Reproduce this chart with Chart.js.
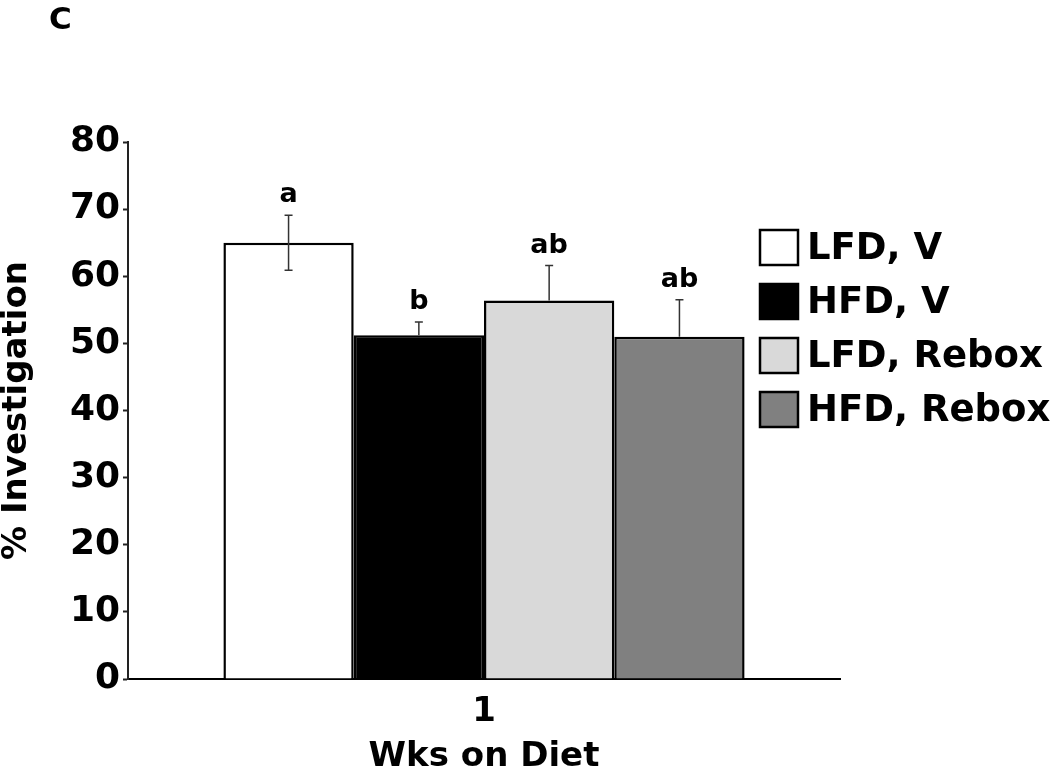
<!DOCTYPE html>
<html>
<head>
<meta charset="utf-8">
<script src="https://cdn.jsdelivr.net/npm/chart.js@4"></script>
<style>
  html, body { margin: 0; padding: 0; background: #fff; }
  #wrap { width: 1050px; height: 772px; }
</style>
</head>
<body>
<div id="wrap"><canvas id="barChart" width="1050" height="772"></canvas></div>
<script>
const categories = ["1"];
const groups = ["LFD, V", "HFD, V", "LFD, Rebox", "HFD, Rebox"];
const means = [65.0, 51.2, 56.4, 51.0];
const sems = [4.1, 2.0, 5.2, 5.5];
const letters = ["a", "b", "ab", "ab"];
const yTicks = [0, 10, 20, 30, 40, 50, 60, 70, 80];

const fills = ["#ffffff", "#000000", "#d9d9d9", "#808080"];
const fontFamily = "'DejaVu Sans', Verdana, sans-serif";

Chart.defaults.font.family = fontFamily;
Chart.defaults.color = "#000";

// error bars and significance letters above each bar
const errorBars = {
    id: "errorBars",
    afterDatasetsDraw(chart) {
        const ctx = chart.ctx, y = chart.scales.y;
        ctx.save();
        chart.data.datasets.forEach((ds, i) => {
            const bar = chart.getDatasetMeta(i).data[0];
            const top = y.getPixelForValue(means[i] + sems[i]);
            const low = y.getPixelForValue(means[i] - sems[i]);
            const base = y.getPixelForValue(means[i]);
            ctx.strokeStyle = "#333";
            ctx.lineWidth = 1.5;
            ctx.beginPath();
            ctx.moveTo(bar.x, base);
            ctx.lineTo(bar.x, top);
            ctx.moveTo(bar.x - 4, top);
            ctx.lineTo(bar.x + 4, top);
            if (i === 0) {
                ctx.moveTo(bar.x, base);
                ctx.lineTo(bar.x, low);
                ctx.moveTo(bar.x - 4, low);
                ctx.lineTo(bar.x + 4, low);
            }
            ctx.stroke();

            ctx.fillStyle = "#000";
            ctx.font = "bold 27px " + fontFamily;
            ctx.textAlign = "center";
            ctx.textBaseline = "alphabetic";
            ctx.fillText(letters[i], bar.x, top - 13);
        });
        ctx.restore();
    }
};

// legend boxes to the right of the plot, plus the panel letter
const sideLegend = {
    id: "sideLegend",
    afterDraw(chart) {
        const ctx = chart.ctx;
        ctx.save();
        chart.data.datasets.forEach((ds, i) => {
            const top = 230 + i * 54;
            ctx.fillStyle = ds.backgroundColor;
            ctx.fillRect(760, top, 38, 35);
            ctx.strokeStyle = "#000";
            ctx.lineWidth = 2.5;
            ctx.strokeRect(760, top, 38, 35);
            ctx.fillStyle = "#000";
            ctx.font = "bold 37px " + fontFamily;
            ctx.textAlign = "left";
            ctx.textBaseline = "middle";
            ctx.fillText(ds.label, 807, top + 19);
        });
        ctx.font = "bold 31px " + fontFamily;
        ctx.textAlign = "left";
        ctx.textBaseline = "alphabetic";
        ctx.fillText("C", 49, 29);
        ctx.restore();
    }
};

const barChart = new Chart(document.getElementById("barChart"), {
    type: "bar",
    data: {
        labels: categories,
        datasets: groups.map((g, i) => ({
            label: g,
            data: [means[i]],
            backgroundColor: fills[i],
            borderColor: "#000",
            borderWidth: 2.5,
            categoryPercentage: 0.732,
            barPercentage: 1.0,
        })),
    },
    options: {
        responsive: false,
        animation: false,
        layout: { padding: { left: 0, right: 210, top: 142, bottom: 0 } },
        plugins: {
            legend: { display: false },
            tooltip: { enabled: false },
        },
        scales: {
            x: {
                grid: { display: false, drawTicks: false },
                border: { display: true, color: "#000", width: 2 },
                ticks: { font: { size: 34, weight: "bold" }, padding: 13, color: "#000" },
                title: {
                    display: true,
                    text: "Wks on Diet",
                    font: { size: 34, weight: "bold", lineHeight: 0.88 },
                    padding: 0,
                    color: "#000",
                },
                afterFit: (scale) => { scale.height = 93; },
            },
            y: {
                min: 0,
                max: 80,
                afterBuildTicks: (scale) => { scale.ticks = yTicks.map((v) => ({ value: v })); },
                grid: { drawOnChartArea: false, drawTicks: true, tickLength: 5, color: "#222", tickWidth: 2 },
                border: { display: true, color: "#222", width: 2 },
                ticks: { font: { size: 36, weight: "bold" }, padding: 3, color: "#000" },
                title: {
                    display: true,
                    text: "% Investigation",
                    font: { size: 34, weight: "bold", lineHeight: 1 },
                    padding: 0,
                    color: "#000",
                },
                afterFit: (scale) => { scale.width = 128; },
            },
        },
    },
    plugins: [errorBars, sideLegend],
});
</script>
</body>
</html>
